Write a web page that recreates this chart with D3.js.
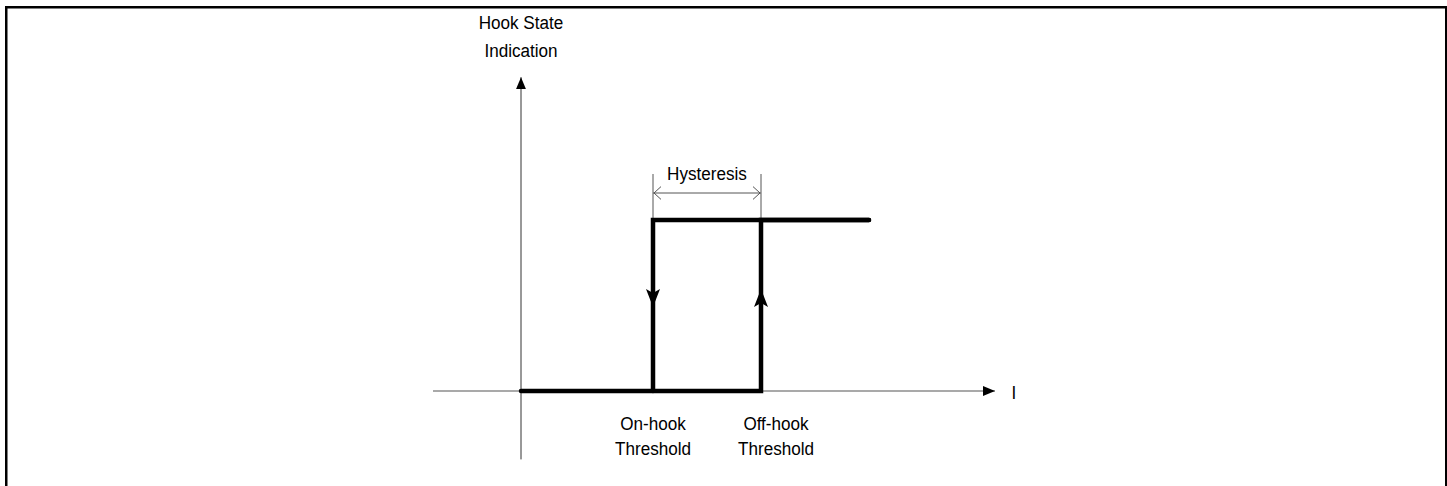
<!DOCTYPE html>
<html><head><meta charset="utf-8">
<script src="https://cdn.jsdelivr.net/npm/d3@7"></script>
<style>body{margin:0;background:#fff}svg{display:block}text{font-family:"Liberation Sans",Arial,sans-serif;font-size:19px;fill:#000}</style>
</head><body><svg id="c" width="1447" height="486"></svg>
<script>
// Data (current I in arbitrary units, hook state 0 = on-hook, 1 = off-hook)
const thresholds = [3.3, 6.0];           // on-hook, off-hook thresholds
const thresholdLabels = [["On-hook","Threshold"],["Off-hook","Threshold"]];
const riseI = [0, 6.0, 6.0, 8.7];        // off-hook transition path (I)
const riseState = [0, 0, 1, 1];
const fallI = [8.7, 3.3, 3.3];           // on-hook transition path (I)
const fallState = [1, 1, 0];
const xAxisRange = [-2.2, 11.85];
const yAxisRange = [-0.4, 1.835];
const yTitle = ["Hook State","Indication"];
const xTitle = "I";
const hystLabel = "Hysteresis";

const svg = d3.select("#c");
const x = d3.scaleLinear().domain([0, 10]).range([521, 921]);
const y = d3.scaleLinear().domain([0, 1]).range([391, 220]);

function label(tx, ty, s){
  return svg.append("text").attr("transform",`translate(${tx},${ty}) scale(0.9,1)`)
    .attr("text-anchor","middle").text(s);
}

// border
svg.append("rect").attr("x",6.25).attr("y",7.25).attr("width",1440).attr("height",490)
  .attr("fill","none").attr("stroke","#000").attr("stroke-width",2.5);

const defs = svg.append("defs");
defs.append("marker").attr("id","axArrow").attr("viewBox","0 0 12 10").attr("refX",12).attr("refY",5)
  .attr("markerWidth",12).attr("markerHeight",10).attr("markerUnits","userSpaceOnUse").attr("orient","auto")
  .append("path").attr("d","M0,0L12,5L0,10Z").attr("fill","#000");

// axes
svg.append("line").attr("x1",x(xAxisRange[0])).attr("x2",x(xAxisRange[1])).attr("y1",y(0)).attr("y2",y(0))
  .attr("stroke","#555").attr("stroke-width",1.2).attr("marker-end","url(#axArrow)");
svg.append("line").attr("x1",x(0)).attr("x2",x(0)).attr("y1",y(yAxisRange[0])).attr("y2",y(yAxisRange[1]))
  .attr("stroke","#333").attr("stroke-width",1).attr("marker-end","url(#axArrow)");

// axis titles
label(x(xAxisRange[1])+19, y(0)+8, xTitle);
yTitle.forEach((t,i)=>label(x(0), 29+i*28, t));

// hysteresis dimension
const hy = 193;
thresholds.forEach(t=>{
  svg.append("line").attr("x1",x(t)).attr("x2",x(t)).attr("y1",174).attr("y2",y(1))
    .attr("stroke","#555").attr("stroke-width",1);
});
svg.append("line").attr("x1",x(thresholds[0])).attr("x2",x(thresholds[1])).attr("y1",hy).attr("y2",hy)
  .attr("stroke","#555").attr("stroke-width",1);
const ch = 8;
svg.append("path").attr("d",`M${x(thresholds[0])+ch},${hy-ch*0.8}L${x(thresholds[0])+1},${hy}L${x(thresholds[0])+ch},${hy+ch*0.8}`)
  .attr("fill","none").attr("stroke","#555").attr("stroke-width",1);
svg.append("path").attr("d",`M${x(thresholds[1])-ch},${hy-ch*0.8}L${x(thresholds[1])-1},${hy}L${x(thresholds[1])-ch},${hy+ch*0.8}`)
  .attr("fill","none").attr("stroke","#555").attr("stroke-width",1);
label((x(thresholds[0])+x(thresholds[1]))/2, 180, hystLabel);

// hysteresis loop
const line = d3.line().x(d=>x(d[0])).y(d=>y(d[1]));
svg.append("path").attr("d",line(riseI.map((v,i)=>[v,riseState[i]])))
  .attr("fill","none").attr("stroke","#000").attr("stroke-width",4.5).attr("stroke-linecap","round");
svg.append("path").attr("d",line(fallI.map((v,i)=>[v,fallState[i]])))
  .attr("fill","none").attr("stroke","#000").attr("stroke-width",4.5).attr("stroke-linecap","round");

// direction arrows on verticals
const ah = 18, aw = 7;
const ym = 298;
svg.append("path").attr("d",`M${x(thresholds[0])-aw},${ym-ah/2}L${x(thresholds[0])},${ym-ah/2+4}L${x(thresholds[0])+aw},${ym-ah/2}L${x(thresholds[0])},${ym+ah/2}Z`).attr("fill","#000");
svg.append("path").attr("d",`M${x(thresholds[1])-aw},${ym+ah/2}L${x(thresholds[1])},${ym+ah/2-4}L${x(thresholds[1])+aw},${ym+ah/2}L${x(thresholds[1])},${ym-ah/2}Z`).attr("fill","#000");

// threshold labels
thresholds.forEach((t,k)=>{
  thresholdLabels[k].forEach((s,i)=>label(x(t)+(k?15:0), 430+i*25, s));
});
</script></body></html>
